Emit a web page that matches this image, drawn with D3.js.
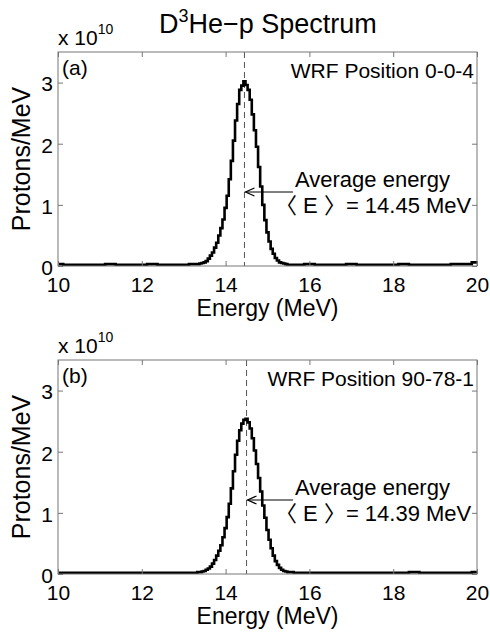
<!DOCTYPE html>
<html>
<head>
<meta charset="utf-8">
<script src="https://cdn.jsdelivr.net/npm/d3@7"></script>
<style>
  body { margin: 0; background: #fff; }
  svg text { font-family: "Liberation Sans", Arial, "Noto Sans CJK SC", sans-serif; fill: #000; }
</style>
</head>
<body>
<div class="canvas"></div>
<script>
// ---- data (counts in units of 1e10 protons/MeV) ----
const panelLetters = ['(a)', '(b)'];
const positions = ['WRF Position 0-0-4', 'WRF Position 90-78-1'];
const meanLabels = ['14.45', '14.39'];
const markerE = [14.45, 14.50]; // where the dashed line sits
const xTicks = [10, 12, 14, 16, 18, 20];
const yTicks = [0, 1, 2, 3];

const energyA = [10.0, 10.25, 10.5, 10.75, 11.0, 11.25, 11.5, 11.75, 12.0, 12.25, 12.5, 12.75, 13.0, 13.25,
  13.30, 13.35, 13.40, 13.45, 13.50, 13.55, 13.60, 13.65, 13.70, 13.75, 13.80, 13.85, 13.90, 13.95,
  14.00, 14.05, 14.10, 14.15, 14.20, 14.25, 14.30, 14.35, 14.40, 14.45, 14.50, 14.55, 14.60, 14.65,
  14.70, 14.75, 14.80, 14.85, 14.90, 14.95, 15.00, 15.05, 15.10, 15.15, 15.20, 15.25, 15.30, 15.35,
  15.40, 15.45,
  15.5, 15.75, 16.0, 16.25, 16.5, 16.75, 17.0, 17.25, 17.5, 17.75, 18.0, 18.25, 18.5, 18.75, 19.0,
  19.25, 19.5, 19.75, 20.0];
const countsA = [0.03, 0.02, 0.02, 0.02, 0.02, 0.03, 0.02, 0.02, 0.02, 0.03, 0.02, 0.02, 0.02, 0.03,
  0.03, 0.03, 0.04, 0.05, 0.06, 0.08, 0.12, 0.17, 0.22, 0.30, 0.38, 0.50, 0.62, 0.76,
  0.95, 1.15, 1.42, 1.72, 2.05, 2.38, 2.65, 2.88, 2.95, 3.02, 2.96, 2.88, 2.72, 2.48,
  2.22, 1.95, 1.62, 1.30, 1.00, 0.75, 0.55, 0.40, 0.28, 0.20, 0.13, 0.09, 0.06, 0.05,
  0.04, 0.03,
  0.02, 0.02, 0.03, 0.02, 0.02, 0.02, 0.03, 0.02, 0.02, 0.02, 0.02, 0.03, 0.02, 0.02, 0.02,
  0.02, 0.03, 0.03, 0.06];

const energyB = [10.0, 10.25, 10.5, 10.75, 11.0, 11.25, 11.5, 11.75, 12.0, 12.25, 12.5, 12.75, 13.0, 13.25,
  13.30, 13.35, 13.40, 13.45, 13.50, 13.55, 13.60, 13.65, 13.70, 13.75, 13.80, 13.85, 13.90, 13.95,
  14.00, 14.05, 14.10, 14.15, 14.20, 14.25, 14.30, 14.35, 14.40, 14.45, 14.50, 14.55, 14.60, 14.65,
  14.70, 14.75, 14.80, 14.85, 14.90, 14.95, 15.00, 15.05, 15.10, 15.15, 15.20, 15.25, 15.30, 15.35,
  15.40, 15.45, 15.50,
  15.75, 16.0, 16.25, 16.5, 16.75, 17.0, 17.25, 17.5, 17.75, 18.0, 18.25, 18.5, 18.75, 19.0,
  19.25, 19.5, 19.75, 20.0];
const countsB = [0.02, 0.02, 0.02, 0.02, 0.02, 0.02, 0.02, 0.02, 0.02, 0.02, 0.02, 0.02, 0.02, 0.02,
  0.02, 0.03, 0.03, 0.04, 0.05, 0.07, 0.09, 0.12, 0.17, 0.23, 0.30, 0.38, 0.47, 0.60,
  0.75, 0.93, 1.15, 1.40, 1.68, 1.95, 2.18, 2.35, 2.46, 2.52, 2.54, 2.48, 2.38, 2.22,
  2.02, 1.80, 1.57, 1.35, 1.12, 0.92, 0.72, 0.56, 0.42, 0.30, 0.21, 0.15, 0.10, 0.07,
  0.05, 0.04, 0.03,
  0.02, 0.02, 0.02, 0.02, 0.02, 0.02, 0.02, 0.02, 0.02, 0.02, 0.02, 0.03, 0.02, 0.02,
  0.02, 0.02, 0.02, 0.03];

const energies = [energyA, energyB];
const counts = [countsA, countsB];

// ---- layout ----
const W = 490, H = 636;
const m = {l: 58, r: 13};
const panelTop = [52, 360];
const ph = 214;

const svg = d3.select('.canvas').append('svg')
  .attr('width', W).attr('height', H);

const x = d3.scaleLinear().domain([10, 20]).range([m.l, W - m.r]);

// title
const title = svg.append('text')
  .attr('x', 159).attr('y', 33)
  .style('font-size', '27px');
title.append('tspan').text('D');
title.append('tspan').attr('dy', -11).style('font-size', '18px').text('3');
title.append('tspan').attr('dy', 11).text('He\u2212p Spectrum');

for (let p = 0; p < 2; p++) {
  const top = panelTop[p];
  const y = d3.scaleLinear().domain([0, 3.5]).range([top + ph, top]);
  const g = svg.append('g');

  // scale factor label
  const sf = g.append('text').attr('x', 58).attr('y', top - 7).style('font-size', '21px');
  sf.append('tspan').text('x 10');
  sf.append('tspan').attr('dy', -11).style('font-size', '14px').text('10');

  // dashed mean line
  g.append('line')
    .attr('x1', x(markerE[p])).attr('x2', x(markerE[p]))
    .attr('y1', top).attr('y2', top + ph)
    .attr('stroke', '#555').attr('stroke-width', 1)
    .attr('stroke-dasharray', '6,4');

  // spectrum
  const pts = energies[p].map((e, i) => [e, counts[p][i]]);
  g.append('path')
    .datum(pts)
    .attr('fill', 'none')
    .attr('stroke', '#000')
    .attr('stroke-width', 2.6)
    .attr('d', d3.line().x(d => x(d[0])).y(d => y(d[1])).curve(d3.curveStep));

  // axes (inward ticks)
  const axB = g.append('g').attr('transform', `translate(0,${top + ph})`)
    .call(d3.axisBottom(x).tickValues(xTicks).tickSizeInner(-5).tickSizeOuter(0).tickPadding(11));
  const axT = g.append('g').attr('transform', `translate(0,${top})`)
    .call(d3.axisTop(x).tickValues(xTicks).tickSizeInner(-5).tickSizeOuter(0).tickFormat(''));
  const axL = g.append('g').attr('transform', `translate(${m.l},0)`)
    .call(d3.axisLeft(y).tickValues(yTicks).tickFormat(d3.format('d'))
      .tickSizeInner(-5).tickSizeOuter(0).tickPadding(5));
  const axR = g.append('g').attr('transform', `translate(${W - m.r},0)`)
    .call(d3.axisRight(y).tickValues(yTicks).tickSizeInner(-5).tickSizeOuter(0).tickFormat(''));
  [axB, axT, axL, axR].forEach(a => {
    a.select('.domain').remove();
    a.selectAll('line').attr('stroke', '#777');
    a.selectAll('text').style('font-size', '21px')
      .style('font-family', '"Liberation Sans", Arial, sans-serif').attr('fill', '#000');
  });
  axL.selectAll('text').attr('dy', '0.4em');

  // box
  g.append('rect')
    .attr('x', m.l).attr('y', top)
    .attr('width', W - m.r - m.l).attr('height', ph)
    .attr('fill', 'none').attr('stroke', '#777').attr('stroke-width', 1);

  // axis titles
  g.append('text')
    .attr('x', x(15)).attr('y', top + ph + 50)
    .attr('text-anchor', 'middle').style('font-size', '23px')
    .text('Energy (MeV)');
  g.append('text')
    .attr('transform', `translate(30,${top + ph / 2}) rotate(-90)`)
    .attr('text-anchor', 'middle').style('font-size', '25px')
    .text('Protons/MeV');

  // in-plot labels
  g.append('text').attr('x', 62).attr('y', top + 23).style('font-size', '21px').text(panelLetters[p]);
  g.append('text').attr('x', W - m.r - 3).attr('y', top + 26)
    .attr('text-anchor', 'end').style('font-size', '21px').text(positions[p]);

  // annotation
  const ay = top + 140;
  g.append('line')
    .attr('x1', 293).attr('x2', x(markerE[p]) + 1)
    .attr('y1', ay).attr('y2', ay)
    .attr('stroke', '#000').attr('stroke-width', 1);
  g.append('path')
    .attr('d', `M${x(markerE[p]) + 10},${ay - 4}L${x(markerE[p]) + 1},${ay}L${x(markerE[p]) + 10},${ay + 4}`)
    .attr('fill', 'none').attr('stroke', '#000').attr('stroke-width', 1.2);
  g.append('text').attr('x', 295).attr('y', top + 135)
    .style('font-size', '22px').text('Average energy');
  g.append('text').attr('x', 275).attr('y', top + 161)
    .style('font-size', '22px').text('\u3008 E \u3009= ' + meanLabels[p] + ' MeV');
}
</script>
</body>
</html>
